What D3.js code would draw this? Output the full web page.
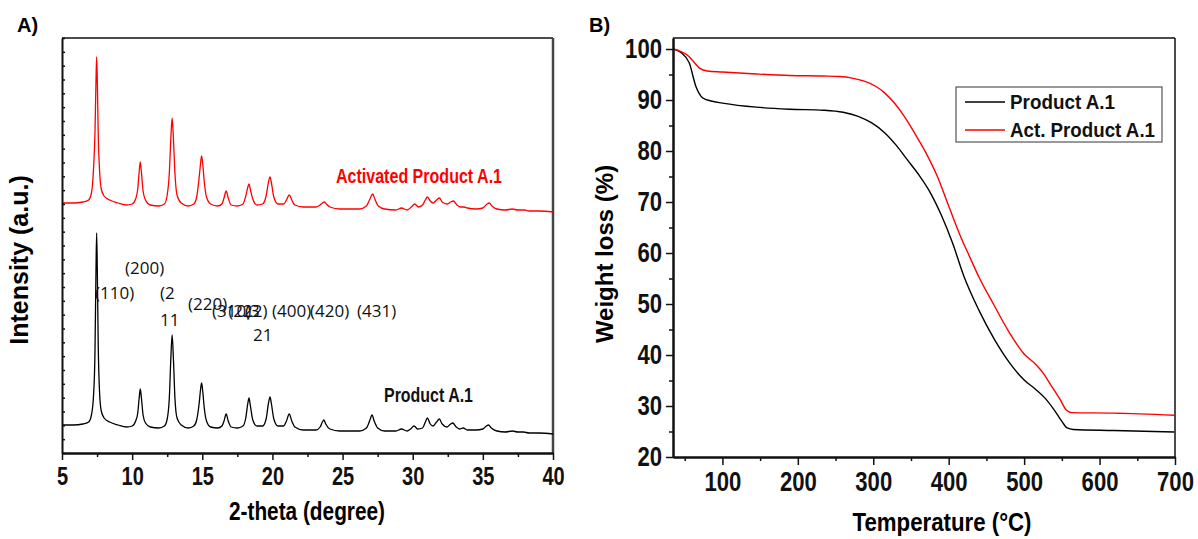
<!DOCTYPE html>
<html>
<head>
<meta charset="utf-8">
<script src="https://cdn.jsdelivr.net/npm/d3@7"></script>
<style>
  body { margin: 0; background: #fff; }
  svg { display: block; }
  .bold { font-family: 'Liberation Sans', Arial, sans-serif; font-weight: bold; }
  .hkl { font-family: 'Open Sans', sans-serif; font-size: 17px; fill: #111; }
</style>
</head>
<body>
<svg id="canvas" width="1198" height="539"></svg>
<script>
// --- panel A: XRD patterns [2-theta, intensity (a.u.)]
const xrdProduct = [
  [5.0, 28], [5.8, 28], [6.5, 29], [6.9, 31], [7.1, 38], [7.25, 58], [7.35, 100], [7.42, 180],
  [7.47, 220], [7.52, 180], [7.58, 110], [7.68, 60], [7.8, 42], [8.0, 35], [8.4, 31], [9.0, 28],
  [9.6, 26], [10.0, 27], [10.25, 32], [10.4, 40], [10.5, 55], [10.58, 64], [10.66, 55], [10.78, 38],
  [10.95, 30], [11.3, 26], [11.9, 25], [12.3, 27], [12.5, 34], [12.65, 55], [12.76, 95], [12.85, 118],
  [12.94, 95], [13.05, 55], [13.2, 35], [13.5, 28], [14.0, 25], [14.4, 27], [14.6, 33], [14.78, 50],
  [14.88, 64], [14.95, 70], [15.03, 62], [15.15, 44], [15.3, 32], [15.6, 26], [16.1, 25], [16.4, 27],
  [16.55, 32], [16.7, 39], [16.85, 32], [17.05, 26], [17.5, 25], [17.9, 27], [18.1, 35], [18.25, 50],
  [18.33, 55], [18.42, 48], [18.6, 33], [18.9, 27], [19.3, 27], [19.55, 34], [19.72, 50], [19.83, 56],
  [19.93, 49], [20.1, 34], [20.4, 27], [20.8, 27], [21.0, 32], [21.2, 39], [21.38, 32], [21.6, 26],
  [22.2, 23], [23.1, 23], [23.4, 26], [23.56, 31], [23.67, 33], [23.8, 29], [24.1, 24], [24.8, 22],
  [26.2, 22], [26.7, 25], [26.95, 33], [27.1, 38], [27.25, 32], [27.5, 25], [28.0, 22], [28.8, 22],
  [29.2, 24], [29.6, 22], [29.85, 24], [30.1, 27], [30.35, 24], [30.7, 25], [30.9, 31], [31.05, 35],
  [31.25, 29], [31.45, 27], [31.7, 31], [31.9, 34], [32.1, 29], [32.45, 26], [32.7, 29], [32.85, 30],
  [33.1, 26], [33.35, 24], [33.6, 25], [33.9, 23], [34.5, 23], [35.0, 24], [35.25, 27], [35.4, 28],
  [35.6, 25], [36.0, 22], [36.6, 21], [37.1, 22], [37.5, 21], [37.9, 21], [38.3, 20], [39.0, 20],
  [40.0, 19]
];
const xrdActivated = [
  [5.0, 250], [5.8, 250], [6.5, 251], [6.9, 253], [7.1, 260], [7.25, 285], [7.35, 320], [7.42, 370],
  [7.47, 396], [7.52, 370], [7.58, 320], [7.68, 282], [7.8, 264], [8.0, 257], [8.4, 253], [9.0, 250],
  [9.6, 248], [10.0, 249], [10.25, 254], [10.4, 264], [10.5, 281], [10.58, 291], [10.66, 281], [10.78, 262],
  [10.95, 253], [11.3, 248], [11.9, 247], [12.3, 249], [12.5, 258], [12.65, 280], [12.76, 315], [12.85, 335],
  [12.94, 315], [13.05, 280], [13.2, 258], [13.5, 250], [14.0, 247], [14.4, 249], [14.6, 256], [14.78, 276],
  [14.88, 290], [14.95, 297], [15.03, 289], [15.15, 270], [15.3, 256], [15.6, 249], [16.1, 247], [16.4, 249],
  [16.55, 255], [16.7, 262], [16.85, 255], [17.05, 248], [17.5, 247], [17.9, 249], [18.1, 257], [18.25, 266],
  [18.33, 269], [18.42, 264], [18.6, 254], [18.9, 248], [19.3, 249], [19.55, 257], [19.72, 271], [19.83, 276],
  [19.93, 270], [20.1, 256], [20.4, 249], [20.8, 249], [21.0, 253], [21.2, 258], [21.38, 253], [21.6, 248],
  [22.2, 246], [23.1, 246], [23.4, 248], [23.56, 250], [23.7, 251], [23.85, 249], [24.1, 246], [24.8, 244],
  [26.2, 244], [26.7, 247], [26.95, 254], [27.15, 259], [27.3, 254], [27.55, 247], [28.0, 244], [28.8, 243],
  [29.2, 245], [29.6, 243], [29.9, 246], [30.15, 249], [30.4, 246], [30.7, 248], [30.9, 253], [31.05, 256],
  [31.25, 252], [31.45, 250], [31.7, 253], [31.9, 255], [32.1, 251], [32.45, 249], [32.7, 251], [32.9, 252],
  [33.15, 248], [33.4, 246], [33.65, 246], [33.9, 245], [34.5, 244], [35.0, 245], [35.3, 249], [35.45, 250],
  [35.65, 247], [36.0, 244], [36.6, 243], [37.1, 244], [37.5, 243], [37.95, 243], [38.3, 242], [39.0, 242],
  [40.0, 241]
];
// Miller indices as they sit over the peaks: [text, 2-theta, intensity]
const hklLabels = [
  ['(200)', 9.49, 179], ['(110)', 7.35, 154], ['(2', 11.98, 154], ['11', 11.98, 127],
  ['(220)', 13.98, 143], ['(310)', 15.69, 136], ['(222)', 16.85, 136], ['(3', 18.05, 136],
  ['21', 18.61, 112], ['(400)', 19.97, 136], ['(420)', 22.68, 136], ['(431)', 26.03, 136]
];
const xrdTicks = [5, 10, 15, 20, 25, 30, 35, 40];
const xrdMinor = [7.5, 12.5, 17.5, 22.5, 27.5, 32.5, 37.5];

// --- panel B: TGA [temperature (C), weight (%)]
const tgaProduct = [
  [35, 100], [45, 99.3], [56, 97.3], [65, 92.6], [74, 90.4], [85, 89.8], [100, 89.4], [145, 88.6],
  [189, 88.2], [234, 88.0], [260, 87.6], [280, 86.8], [298, 85.5], [315, 83.6], [330, 81.2], [345, 78.3],
  [360, 75.4], [375, 72.0], [390, 67.5], [405, 62], [420, 55.5], [440, 48.8], [460, 43.2], [480, 38.6],
  [500, 35.1], [515, 33.3], [528, 31.5], [540, 29.2], [550, 27], [557, 25.7], [565, 25.4], [619, 25.2],
  [699, 24.9]
];
const tgaActivated = [
  [35, 100], [45, 99.5], [56, 98.5], [63, 97.3], [70, 96.2], [80, 95.7], [100, 95.5], [145, 95.1],
  [189, 94.8], [234, 94.7], [255, 94.6], [272, 94.3], [288, 93.7], [302, 92.8], [315, 91.4], [328, 89.4],
  [342, 86.6], [356, 83.2], [370, 79.6], [385, 75], [400, 69.2], [415, 63.5], [428, 59.2], [440, 55.3],
  [460, 49.8], [480, 44.5], [500, 40.2], [515, 38.2], [525, 36.5], [535, 34.2], [548, 31.2], [556, 29.2],
  [563, 28.7], [619, 28.6], [699, 28.2]
];
const tgaSeries = ['Product A.1', 'Act. Product A.1'];
const tgaColors = ['#000', '#ff0000'];
const tgaXTicks = [100, 200, 300, 400, 500, 600, 700];
const tgaXMinor = [50, 150, 250, 350, 450, 550, 650];
const tgaYTicks = [20, 30, 40, 50, 60, 70, 80, 90, 100];
const tgaYMinor = [25, 35, 45, 55, 65, 75, 85, 95];

const svg = d3.select('#canvas');

function styleAxis (g, width) {
  g.select('.domain').attr('stroke', '#111').attr('stroke-width', width);
  g.selectAll('.tick line').attr('stroke', '#111').attr('stroke-width', 1.5);
}

// squeeze tick labels sideways, the source figure uses a condensed face
function narrowLabels (g, size, squeeze, shiftX) {
  g.selectAll('text')
    .attr('class', 'bold').attr('font-size', size).attr('fill', '#111')
    .attr('transform', 'scale(' + squeeze + ',1)');
  if (shiftX) {
    g.selectAll('text').attr('x', shiftX / squeeze);
  }
}

// ================= panel A =================
const xA = d3.scaleLinear().domain([5, 40]).range([62, 553]);
const yA = d3.scaleLinear().domain([0, 415]).range([453, 38]);

svg.append('text').attr('class', 'bold').attr('x', 17).attr('y', 32)
  .attr('font-size', 20).text('A)');

// frame top / right
svg.append('line').attr('x1', xA(5)).attr('x2', xA(40)).attr('y1', yA(415)).attr('y2', yA(415))
  .attr('stroke', '#111').attr('stroke-width', 1.5);
svg.append('line').attr('x1', xA(40)).attr('x2', xA(40)).attr('y1', yA(415)).attr('y2', yA(0))
  .attr('stroke', '#444').attr('stroke-width', 2.5);

const lineA = d3.line().x(d => xA(d[0])).y(d => yA(d[1])).curve(d3.curveMonotoneX);
svg.append('path').datum(xrdActivated).attr('d', lineA)
  .attr('fill', 'none').attr('stroke', '#ff0000').attr('stroke-width', 1.3);
svg.append('path').datum(xrdProduct).attr('d', lineA)
  .attr('fill', 'none').attr('stroke', '#000').attr('stroke-width', 1.3);

let gA = svg.append('g').attr('transform', 'translate(0,' + yA(0) + ')')
  .call(d3.axisBottom(xA).tickValues(xrdMinor).tickSize(4).tickSizeOuter(0).tickFormat(''));
styleAxis(gA, 2);
gA = svg.append('g').attr('transform', 'translate(0,' + yA(0) + ')')
  .call(d3.axisBottom(xA).tickValues(xrdTicks).tickSize(7).tickPadding(7).tickSizeOuter(0));
styleAxis(gA, 2);
narrowLabels(gA, 25, 0.8);

gA = svg.append('g').attr('transform', 'translate(' + xA(5) + ',0)')
  .call(d3.axisLeft(yA).tickValues(d3.range(0, 416, 415 / 30)).tickSize(-3).tickSizeOuter(0).tickFormat(''));
styleAxis(gA, 2);

svg.append('text').attr('class', 'bold').attr('font-size', 25)
  .attr('x', 307).attr('y', 520).attr('text-anchor', 'middle')
  .attr('textLength', 156).attr('lengthAdjust', 'spacingAndGlyphs')
  .text('2-theta (degree)');
svg.append('text').attr('class', 'bold').attr('font-size', 25)
  .attr('transform', 'translate(28,260) rotate(-90)').attr('text-anchor', 'middle')
  .text('Intensity (a.u.)');

svg.append('text').attr('class', 'bold').attr('font-size', 21).attr('fill', '#ff0000')
  .attr('x', 336).attr('y', 183).attr('textLength', 166).attr('lengthAdjust', 'spacingAndGlyphs')
  .text('Activated Product A.1');
svg.append('text').attr('class', 'bold').attr('font-size', 21).attr('fill', '#111')
  .attr('x', 384).attr('y', 402).attr('textLength', 89).attr('lengthAdjust', 'spacingAndGlyphs')
  .text('Product A.1');

svg.selectAll('text.hkl').data(hklLabels).enter().append('text')
  .attr('class', 'hkl')
  .attr('x', d => xA(d[1]))
  .attr('y', d => yA(d[2]))
  .text(d => d[0]);

// ================= panel B =================
const xB = d3.scaleLinear().domain([34.5, 700]).range([673, 1175]);
const yB = d3.scaleLinear().domain([20, 102.16]).range([457, 38]);

svg.append('text').attr('class', 'bold').attr('x', 589).attr('y', 32)
  .attr('font-size', 20).text('B)');

svg.append('line').attr('x1', xB(34.5)).attr('x2', xB(700)).attr('y1', yB(102.16)).attr('y2', yB(102.16))
  .attr('stroke', '#111').attr('stroke-width', 1.5);
svg.append('line').attr('x1', xB(700)).attr('x2', xB(700)).attr('y1', yB(102.16)).attr('y2', yB(20))
  .attr('stroke', '#111').attr('stroke-width', 1.5);

const lineB = d3.line().x(d => xB(d[0])).y(d => yB(d[1])).curve(d3.curveMonotoneX);
[tgaProduct, tgaActivated].forEach((s, i) => {
  svg.append('path').datum(s).attr('d', lineB)
    .attr('fill', 'none').attr('stroke', tgaColors[i]).attr('stroke-width', 1.4);
});

let gB = svg.append('g').attr('transform', 'translate(0,' + yB(20) + ')')
  .call(d3.axisBottom(xB).tickValues(tgaXMinor).tickSize(4).tickSizeOuter(0).tickFormat(''));
styleAxis(gB, 2);
gB = svg.append('g').attr('transform', 'translate(0,' + yB(20) + ')')
  .call(d3.axisBottom(xB).tickValues(tgaXTicks).tickSize(8).tickPadding(7).tickSizeOuter(0));
styleAxis(gB, 2);
narrowLabels(gB, 27, 0.82);

gB = svg.append('g').attr('transform', 'translate(' + xB(34.5) + ',0)')
  .call(d3.axisLeft(yB).tickValues(tgaYMinor).tickSize(4).tickSizeOuter(0).tickFormat(''));
styleAxis(gB, 2);
gB = svg.append('g').attr('transform', 'translate(' + xB(34.5) + ',0)')
  .call(d3.axisLeft(yB).tickValues(tgaYTicks).tickSize(7).tickPadding(4).tickSizeOuter(0));
styleAxis(gB, 2);
narrowLabels(gB, 27, 0.82, -11);

svg.append('text').attr('class', 'bold').attr('font-size', 26)
  .attr('x', 942).attr('y', 531).attr('text-anchor', 'middle')
  .attr('textLength', 179).attr('lengthAdjust', 'spacingAndGlyphs')
  .text('Temperature (°C)');
svg.append('text').attr('class', 'bold').attr('font-size', 24)
  .attr('transform', 'translate(613,254) rotate(-90)').attr('text-anchor', 'middle')
  .text('Weight loss (%)');

// legend
const legend = svg.append('g').attr('transform', 'translate(956,87)');
legend.append('rect').attr('width', 206).attr('height', 55)
  .attr('fill', '#fff').attr('stroke', '#555').attr('stroke-width', 1.2);
tgaSeries.forEach((name, i) => {
  const row = legend.append('g').attr('transform', 'translate(0,' + (15 + i * 28) + ')');
  row.append('line').attr('x1', 9).attr('x2', 49)
    .attr('stroke', tgaColors[i]).attr('stroke-width', 1.4);
  row.append('text').attr('class', 'bold').attr('font-size', 21).attr('x', 54).attr('y', 7)
    .attr('textLength', i === 0 ? 105 : 145).attr('lengthAdjust', 'spacingAndGlyphs')
    .attr('fill', '#111').text(name);
});
</script>
</body>
</html>
